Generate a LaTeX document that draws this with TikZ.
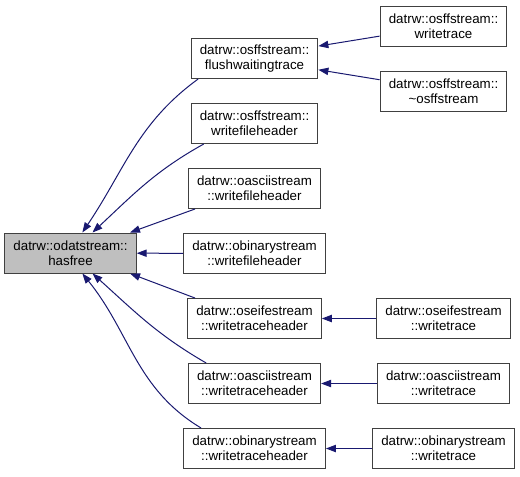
\documentclass[tikz,border=0pt]{standalone}
\usepackage{fontspec}
\setmainfont{Liberation Sans}
\usetikzlibrary{arrows.meta}
\definecolor{edgeblue}{HTML}{191970}

\begin{document}
\begin{tikzpicture}[x=0.75pt, y=-0.75pt, node distance=48.75pt,
	box/.style={draw=black!75, line width=0.75pt, fill=white, minimum height=30pt,
		inner xsep=6.5pt, inner ysep=1pt, align=center, font=\fontsize{10}{11}\selectfont},
	call/.style={draw=edgeblue, line width=0.75pt, -{Triangle[length=7.5pt, width=5.5pt]}}]
	\useasboundingbox (0,0) rectangle (520,476);
	\node[box, fill=black!25] (M) at (70.5,253) {datrw::odatstream::\\hasfree};
	\node[box] (F) at (254.5,58.5) {datrw::osffstream::\\flushwaitingtrace};
	\node[box] (OWfh) [below of=F] {datrw::osffstream::\\writefileheader};
	\node[box] (AWfh) [below of=OWfh] {datrw::oasciistream\\::writefileheader};
	\node[box] (BWfh) [below of=AWfh] {datrw::obinarystream\\::writefileheader};
	\node[box] (SWth) [below of=BWfh] {datrw::oseifestream\\::writetraceheader};
	\node[box] (AWth) [below of=SWth] {datrw::oasciistream\\::writetraceheader};
	\node[box] (BWth) [below of=AWth] {datrw::obinarystream\\::writetraceheader};
	\node[box] (OWt) [right of=F, node distance=141.75pt, yshift=24.375pt] {datrw::osffstream::\\writetrace};
	\node[box] (OD) [right of=F, node distance=141.75pt, yshift=-24.375pt] {datrw::osffstream::\\\textasciitilde osffstream};
	\node[box] (SWt) [right of=SWth, node distance=141.75pt] {datrw::oseifestream\\::writetrace};
	\node[box] (AWt) [right of=AWth, node distance=141.75pt] {datrw::oasciistream\\::writetrace};
	\node[box] (BWt) [right of=BWth, node distance=141.75pt] {datrw::obinarystream\\::writetrace};
	\draw[call] (F.200) to[out=216, in=56] (M.60);
	\draw[call] (OWfh.202) to[out=209, in=43] (M.43);
	\draw[call] (AWfh.199) to (M.19);
	\draw[call] (BWfh) to (M);
	\draw[call] (SWth.161) to (M.341);
	\draw[call] (AWth.157) to[out=150, in=318] (M.317);
	\draw[call] (BWth.159) to[out=149, in=309] (M.300);
	\draw[call] (OWt.189) to (F.11);
	\draw[call] (OD.170) to (F.350);
	\draw[call] (SWt) to (SWth);
	\draw[call] (AWt) to (AWth);
	\draw[call] (BWt) to (BWth);
\end{tikzpicture}
\end{document}
